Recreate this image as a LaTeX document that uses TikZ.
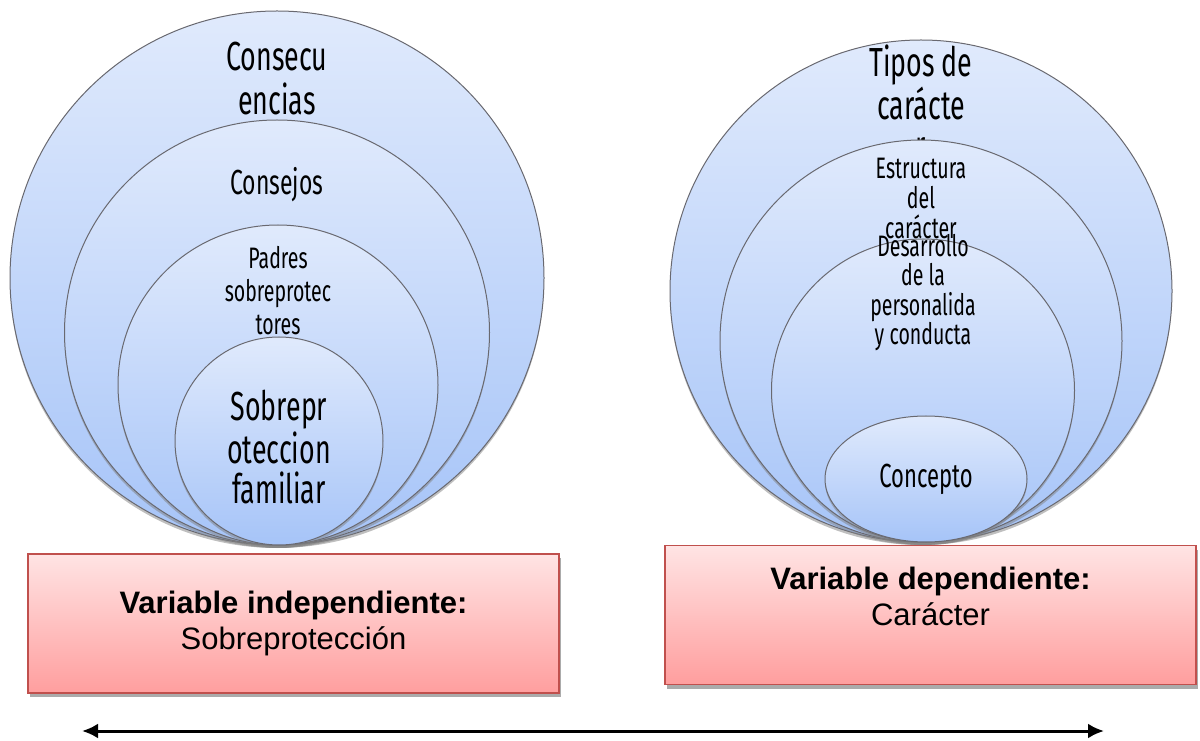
\documentclass[tikz,border=0pt]{standalone}
\usepackage{fontspec}
\setmainfont{Liberation Sans}
\newfontfamily\bubblefont[FakeStretch=0.66]{Fira Sans}
\usetikzlibrary{shapes.geometric,shadows,arrows.meta}
\definecolor{bubbletop}{RGB}{224,234,252}
\definecolor{bubblebot}{RGB}{166,196,248}
\definecolor{bubbleline}{RGB}{105,105,112}
\definecolor{boxtop}{RGB}{255,228,228}
\definecolor{boxbot}{RGB}{255,158,158}
\definecolor{boxline}{RGB}{192,80,77}

\begin{document}
\begin{tikzpicture}[x=0.5pt,y=0.5pt,>={Latex[length=8pt,width=7.5pt]},
    bubble/.style={circle,draw=bubbleline,line width=0.5pt,inner sep=0pt,
      top color=bubbletop,bottom color=bubblebot,
      drop shadow={opacity=0.5,shadow xshift=0pt,shadow yshift=-1.5pt}},
    bubbletext/.style={align=center,inner sep=0pt,text=black},
    varbox/.style={rectangle,draw=boxline,line width=0.9pt,
      top color=boxtop,bottom color=boxbot,
      drop shadow={opacity=0.55,fill=black!60,shadow xshift=1pt,shadow yshift=-2pt},
      minimum width=265.5pt,minimum height=69.5pt},
    vartext/.style={align=center,inner sep=0pt,
      font=\fontsize{15.5}{18}\selectfont}]
  \useasboundingbox (0,0) rectangle (1200,740);

  % variable independiente: nested circles
  \node[bubble,minimum size=267pt] (lc1) at (277,462) {};
  \node[bubbletext,font=\bubblefont\fontsize{20.3}{22}\selectfont]
    (lc1txt) at ([yshift=-34pt]lc1.north) {Consecu\\encias};
  \node[bubble,minimum size=212.5pt] (lc2) at (277,407.5) {};
  \node[bubbletext,font=\bubblefont\fontsize{17.4}{20}\selectfont]
    (lc2txt) at ([yshift=-32.5pt]lc2.north) {Consejos};
  \node[bubble,minimum size=160pt] (lc3) at (278,355) {};
  \node[bubbletext,font=\bubblefont\fontsize{14.8}{16.5}\selectfont]
    (lc3txt) at ([yshift=-33pt]lc3.north) {Padres\\sobreprotec\\tores};
  \node[bubble,minimum size=104pt] (lc4) at (279,299) {};
  \node[bubbletext,font=\bubblefont\fontsize{20.3}{20}\selectfont]
    (lc4txt) at ([yshift=-3pt]lc4.center) {Sobrepr\\oteccion\\familiar};

  % variable dependiente: nested circles
  \node[bubble,minimum size=251pt] (rc1) at (921,449) {};
  \node[bubbletext,font=\bubblefont\fontsize{20.3}{20}\selectfont]
    (rc1txt) at ([yshift=-31.5pt]rc1.north) {Tipos de\\carácte\\r};
  \node[bubble,minimum size=201pt] (rc2) at (921,399) {};
  \node[bubbletext,font=\bubblefont\fontsize{14.8}{15}\selectfont]
    (rc2txt) at ([yshift=-29.5pt]rc2.north) {Estructura\\del\\carácter};
  \node[bubble,minimum size=151.5pt] (rc3) at (923,349.5) {};
  \node[bubbletext,font=\bubblefont\fontsize{14.8}{14.8}\selectfont]
    (rc3txt) at ([yshift=-27pt]rc3.north) {Desarrollo\\de la\\personalida\\y conducta};
  \node[bubble,ellipse,minimum width=101pt,minimum height=63pt,
    font=\bubblefont\fontsize{16.7}{18}\selectfont] (rc4) at (926,261) {Concepto};

  % variable boxes
  \node[varbox] (vi) at (293.5,116.5) {};
  \node[vartext] (vitxt) at (vi.center)
    {\textbf{Variable independiente:}\\Sobreprotección};
  \node[varbox] (vd) at (930.5,125) {};
  \node[vartext] (vdtxt) at ([yshift=9.5pt]vd.center)
    {\textbf{Variable dependiente:}\\Carácter};

  % relation axis
  \coordinate (ejeL) at (82,9);
  \coordinate (ejeR) at (1104,9);
  \draw[<->,line width=1.5pt] (ejeL) -- (ejeR);
\end{tikzpicture}
\end{document}
